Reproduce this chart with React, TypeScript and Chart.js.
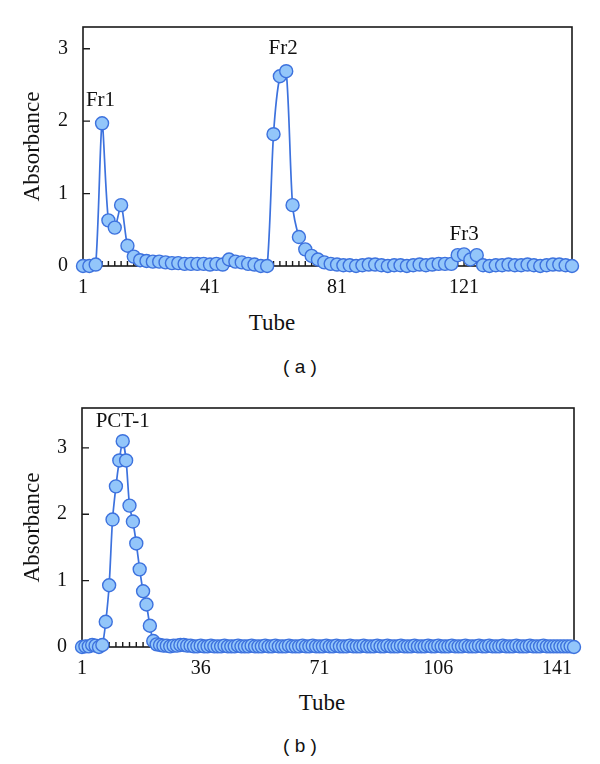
import React, { useEffect, useRef } from "react";
import { Chart, registerables } from "chart.js";

Chart.register(...registerables);

// ---------- Panel (a) ----------
const topValues = [
  0.0, 0.0, 0.02, 1.97, 0.63, 0.53, 0.84, 0.28, 0.13, 0.08,
  0.07, 0.06, 0.06, 0.05, 0.04, 0.04, 0.03, 0.03, 0.03, 0.03,
  0.02, 0.03, 0.02, 0.09, 0.06, 0.05, 0.03, 0.02, 0.0, 0.0,
  1.82, 2.62, 2.69, 0.84, 0.4, 0.23, 0.14, 0.09, 0.05, 0.03,
  0.02, 0.01, 0.01, 0.0, 0.01, 0.02, 0.02, 0.01, 0.0, 0.01,
  0.01, 0.0, 0.01, 0.02, 0.01, 0.02, 0.03, 0.03, 0.03, 0.15,
  0.16, 0.09, 0.15, 0.01, 0.0, 0.01, 0.01, 0.02, 0.01, 0.01,
  0.02, 0.01, 0.0, 0.01, 0.02, 0.02, 0.01, 0.0,
];
const topTubes = topValues.map((_, i) => 1 + 2 * i);
const topTickLabels = [1, 41, 81, 121];
const topYTicks = [0, 1, 2, 3];
const topAnnText = ["Fr1", "Fr2", "Fr3"];
const topAnnTube = [6.5, 64, 121];
const topAnnValue = [2.28, 3.0, 0.44];

// ---------- Panel (b) ----------
const bottomValues = [
  0.0, 0.01, 0.01, 0.03, 0.02, 0.0, 0.03, 0.38, 0.93, 1.92,
  2.42, 2.81, 3.1, 2.81, 2.13, 1.89, 1.56, 1.17, 0.84, 0.64,
  0.32, 0.09,
  0.04, 0.03, 0.02, 0.02, 0.01, 0.02, 0.02, 0.03, 0.03, 0.02,
  0.02, 0.01, 0.01, 0.02, 0.01, 0.01, 0.02, 0.01, 0.01, 0.01,
  0.02, 0.01, 0.01, 0.01, 0.02, 0.01, 0.01, 0.01, 0.02, 0.01,
  0.01, 0.01, 0.02, 0.01, 0.01, 0.02, 0.01, 0.01, 0.01, 0.02,
  0.01, 0.01, 0.01, 0.02, 0.01, 0.01, 0.02, 0.01, 0.01, 0.01,
  0.02, 0.01, 0.01, 0.02, 0.01, 0.01, 0.01, 0.02, 0.01, 0.01,
  0.01, 0.02, 0.01, 0.01, 0.01, 0.02, 0.01, 0.01, 0.02, 0.01,
  0.01, 0.01, 0.02, 0.01, 0.01, 0.01, 0.02, 0.01, 0.01, 0.01,
  0.02, 0.01, 0.01, 0.02, 0.01, 0.01, 0.01, 0.02, 0.01, 0.01,
  0.01, 0.02, 0.01, 0.01, 0.01, 0.02, 0.01, 0.01, 0.02, 0.01,
  0.01, 0.01, 0.02, 0.01, 0.01, 0.01, 0.02, 0.01, 0.01, 0.01,
  0.02, 0.01, 0.01, 0.01, 0.02, 0.01, 0.01, 0.01, 0.01, 0.01,
  0.01, 0.01, 0.01, 0.0,
];
const bottomTubes = bottomValues.map((_, i) => 1 + i);
const bottomTickLabels = [1, 36, 71, 106, 141];
const bottomYTicks = [0, 1, 2, 3];
const bottomAnnText = ["PCT-1"];
const bottomAnnTube = [13];
const bottomAnnValue = [3.4];

const SERIF = "'Liberation Serif', 'DejaVu Serif', serif";
const SANS = "'Liberation Sans', Arial, sans-serif";
const LINE_BLUE = "#3d72de";
const FILL_BLUE = "#93c6fa";
const AXIS = "#1a1a1a";

const framePlugin = {
  id: "frameTicks",
  beforeDatasetsDraw(chart: any, _args: any, opts: any) {
    const { ctx, chartArea: a, scales } = chart;
    ctx.save();
    ctx.strokeStyle = AXIS;
    ctx.lineWidth = 1.6;
    ctx.strokeRect(a.left, a.top, a.right - a.left, a.bottom - a.top);
    ctx.lineWidth = 1.4;
    ctx.beginPath();
    for (const v of opts.yTicks) {
      const y = scales.y.getPixelForValue(v);
      ctx.moveTo(a.left, y);
      ctx.lineTo(a.left + 7, y);
    }
    for (let t = opts.minorStart; t <= scales.x.max; t += opts.minorStep) {
      const x = scales.x.getPixelForValue(t);
      ctx.moveTo(x, a.bottom);
      ctx.lineTo(x, a.bottom - 5);
    }
    ctx.stroke();
    ctx.restore();
  },
  afterDatasetsDraw(chart: any, _args: any, opts: any) {
    const { ctx, scales } = chart;
    ctx.save();
    ctx.fillStyle = "#111";
    ctx.font = `21px ${SERIF}`;
    ctx.textAlign = "center";
    ctx.textBaseline = "middle";
    opts.annText.forEach((txt: string, i: number) => {
      ctx.fillText(
        txt,
        scales.x.getPixelForValue(opts.annTube[i]),
        scales.y.getPixelForValue(opts.annValue[i])
      );
    });
    ctx.restore();
  },
};

type PanelProps = {
  tubes: number[];
  values: number[];
  xMin: number;
  xMax: number;
  yMax: number;
  xTicks: number[];
  yTicks: number[];
  annText: string[];
  annTube: number[];
  annValue: number[];
  minorStep: number;
  padTop: number;
  padRight: number;
  yWidth: number;
};

function Panel(p: PanelProps) {
  const ref = useRef<HTMLCanvasElement | null>(null);
  useEffect(() => {
    if (!ref.current) return;
    const chart = new Chart(ref.current, {
      type: "line",
      data: {
        datasets: [
          {
            data: p.tubes.map((t, i) => ({ x: t, y: p.values[i] })),
            borderColor: LINE_BLUE,
            borderWidth: 1.7,
            backgroundColor: FILL_BLUE,
            pointBackgroundColor: FILL_BLUE,
            pointBorderColor: LINE_BLUE,
            pointBorderWidth: 1.4,
            pointRadius: 6.5,
            tension: 0.25,
            clip: false as any,
          },
        ],
      },
      options: {
        responsive: false,
        animation: false,
        devicePixelRatio: 1,
        layout: { padding: { top: p.padTop, right: p.padRight, left: 0, bottom: 0 } },
        plugins: {
          legend: { display: false },
          tooltip: { enabled: false },
          title: { display: false },
          frameTicks: {
            yTicks: p.yTicks,
            minorStart: p.xMin,
            minorStep: p.minorStep,
            annText: p.annText,
            annTube: p.annTube,
            annValue: p.annValue,
          },
        } as any,
        scales: {
          x: {
            type: "linear",
            min: p.xMin,
            max: p.xMax,
            grid: { display: false, drawTicks: false },
            border: { display: false },
            ticks: {
              color: "#111",
              font: { family: SERIF, size: 20 },
              padding: 10,
              maxRotation: 0,
              autoSkip: false,
            },
            afterBuildTicks: (scale: any) => {
              scale.ticks = p.xTicks.map((v) => ({ value: v }));
            },
            afterFit: (scale: any) => {
              scale.height = 34;
            },
          },
          y: {
            type: "linear",
            min: 0,
            max: p.yMax,
            grid: { display: false, drawTicks: false },
            border: { display: false },
            ticks: {
              color: "#111",
              font: { family: SERIF, size: 20 },
              padding: 15,
            },
            afterBuildTicks: (scale: any) => {
              scale.ticks = p.yTicks.map((v) => ({ value: v }));
            },
            afterFit: (scale: any) => {
              scale.width = p.yWidth;
            },
            title: {
              display: true,
              text: "Absorbance",
              color: "#111",
              font: { family: SERIF, size: 23 },
              padding: { top: 19, bottom: 0 },
            },
          },
        },
      },
      plugins: [framePlugin as any],
    });
    return () => chart.destroy();
  }, []);
  return <canvas ref={ref} width={600} height={300} style={{ width: 600, height: 300, display: "block" }} />;
}

const labelStyle = (x: number, y: number, font: string, size: number): React.CSSProperties => ({
  position: "absolute",
  left: x,
  top: y,
  transform: "translate(-50%, -50%)",
  fontFamily: font,
  fontSize: size,
  color: "#111",
  whiteSpace: "pre",
  lineHeight: 1,
});

export default function App() {
  return (
    <div style={{ position: "absolute", left: 0, top: 0, width: 600, height: 764, background: "#fff" }}>
      <div style={{ position: "absolute", left: 0, top: 0 }}>
        <Panel
          tubes={topTubes}
          values={topValues}
          xMin={1}
          xMax={155}
          yMax={3.3}
          xTicks={topTickLabels}
          yTicks={topYTicks}
          annText={topAnnText}
          annTube={topAnnTube}
          annValue={topAnnValue}
          minorStep={2}
          padTop={21}
          padRight={28}
          yWidth={83}
        />
      </div>
      <div style={{ position: "absolute", left: 0, top: 381 }}>
        <Panel
          tubes={bottomTubes}
          values={bottomValues}
          xMin={1}
          xMax={146}
          yMax={3.6}
          xTicks={bottomTickLabels}
          yTicks={bottomYTicks}
          annText={bottomAnnText}
          annTube={bottomAnnTube}
          annValue={bottomAnnValue}
          minorStep={2}
          padTop={23}
          padRight={26}
          yWidth={82}
        />
      </div>
      <div style={labelStyle(272, 322, SERIF, 23)}>Tube</div>
      <div style={labelStyle(300, 366, SANS, 19)}>( a )</div>
      <div style={labelStyle(322, 702, SERIF, 23)}>Tube</div>
      <div style={labelStyle(300, 745, SANS, 19)}>( b )</div>
    </div>
  );
}
